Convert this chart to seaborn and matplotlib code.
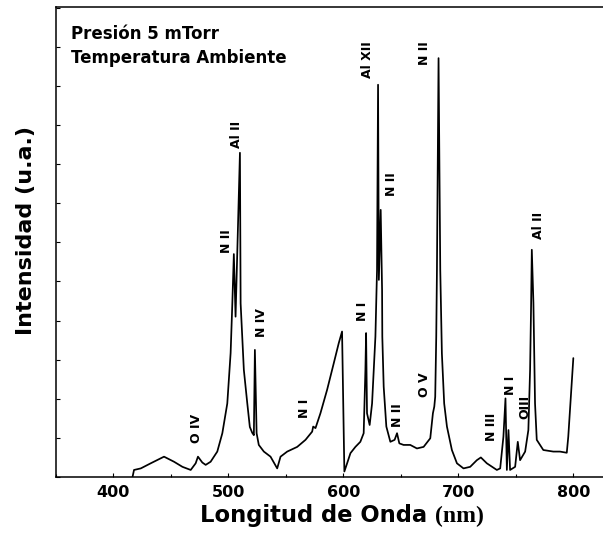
import numpy as np
import pandas as pd
import matplotlib
matplotlib.use("Agg")
import matplotlib.pyplot as plt
import seaborn as sns

# ---- data ----
wavelength = [416.8, 418.1, 424.0, 432.6, 444.2, 452.9, 460.2, 467.4, 471.7, 473.7,
              477.5, 480.4, 484.7, 490.5, 494.9, 499.2, 502.1, 503.6, 504.9, 506.4,
              510.2, 510.8, 513.6, 516.6, 518.8, 520.9, 522.3, 523.2, 524.7, 526.6,
              531.0, 536.8, 542.6, 545.5, 551.3, 560.0, 567.2, 573.0, 573.9, 575.9,
              580.2, 586.0, 591.8, 596.1, 599.0, 601.0, 603.4, 606.3, 610.6, 614.9,
              617.8, 619.3, 619.9, 620.7, 623.0, 625.1, 628.0, 629.4, 630.3, 631.0,
              632.6, 633.8, 634.0, 635.2, 637.5, 641.0, 644.7, 646.8, 648.8, 652.5,
              658.3, 664.1, 669.9, 675.7, 678.0, 679.2, 680.0, 680.9, 681.5, 682.9,
              684.4, 685.8, 687.8, 690.2, 694.5, 698.9, 704.6, 710.4, 716.2, 719.7,
              724.9, 733.6, 736.5, 739.3, 741.1, 742.3, 743.7, 745.1, 749.5, 751.8,
              753.8, 758.2, 761.0, 762.5, 763.4, 764.0, 765.4, 766.8, 768.3, 774.0,
              782.7, 788.5, 794.4, 795.7, 800.1]
intensity = [0.00, 0.18, 0.22, 0.35, 0.52, 0.39, 0.26, 0.18, 0.35, 0.52,
             0.37, 0.31, 0.39, 0.65, 1.12, 1.88, 3.17, 4.45, 5.70, 4.10,
             8.29, 4.44, 2.74, 1.88, 1.28, 1.13, 1.07, 3.25, 1.12, 0.82,
             0.65, 0.52, 0.22, 0.52, 0.65, 0.77, 0.95, 1.16, 1.29, 1.25,
             1.63, 2.23, 2.91, 3.42, 3.72, 0.14, 0.35, 0.61, 0.77, 0.90,
             1.12, 2.74, 3.68, 1.63, 1.33, 1.88, 3.59, 5.29, 10.03, 5.04,
             6.83, 4.78, 3.59, 2.31, 1.29, 0.90, 0.95, 1.12, 0.86, 0.82,
             0.82, 0.73, 0.77, 0.99, 1.63, 1.80, 2.05, 3.59, 5.29, 10.71,
             5.29, 3.16, 1.88, 1.29, 0.69, 0.35, 0.22, 0.26, 0.43, 0.50,
             0.35, 0.18, 0.22, 1.03, 2.01, 0.18, 1.20, 0.18, 0.26, 0.90,
             0.43, 0.65, 1.20, 2.74, 4.44, 5.81, 4.45, 1.88, 0.95, 0.69,
             0.65, 0.65, 0.62, 1.03, 3.04]

peak_labels = ["O IV", "N II", "Al II", "N IV", "N I", "N I", "Al XII", "N II",
               "N II", "O V", "N II", "N III", "N I", "OIII", "Al II"]
peak_label_x = [472.7, 498.4, 507.0, 528.7, 566.3, 616.9, 621.3, 642.4,
                647.0, 670.5, 670.5, 728.6, 745.1, 758.2, 769.4]
peak_label_y = [1.23, 6.02, 8.75, 3.95, 1.76, 4.23, 10.66, 7.49,
                1.59, 2.35, 10.84, 1.29, 2.35, 1.80, 6.44]

x_ticks = [400, 500, 600, 700, 800]
x_minor_ticks = [350, 450, 550, 650, 750]

df = pd.DataFrame({"wl": wavelength, "I": intensity})

sns.set_style("ticks")
plt.rcParams["font.family"] = ["DejaVu Sans"]
plt.rcParams["text.color"] = "black"
plt.rcParams["axes.labelcolor"] = "black"
plt.rcParams["xtick.color"] = "black"
plt.rcParams["ytick.color"] = "black"
plt.rcParams["axes.edgecolor"] = "black"

fig = plt.figure(figsize=(6.03, 5.37), dpi=100)
ax = fig.add_axes([55.7 / 603, 1 - 477 / 537, 1 - 55.7 / 603, (477 - 7.3) / 537])

sns.lineplot(data=df, x="wl", y="I", ax=ax, color="black", linewidth=1.25,
             sort=False, estimator=None)

ax.set_xlim(350.8, 825.9)
ax.set_ylim(0, 12.01)

ax.set_xticks(x_ticks)
ax.set_xticks(x_minor_ticks, minor=True)
ax.set_xticklabels([str(t) for t in x_ticks], fontsize=11.5, fontweight="bold",
                   color="black")
ax.set_yticks(np.arange(0, 13, 1))
ax.set_yticklabels([])
ax.tick_params(axis="both", which="major", direction="in", length=3, width=0.8,
               pad=6, right=False, top=False, colors="black")
ax.tick_params(axis="x", which="minor", direction="in", length=2, width=0.8,
               colors="black")

for side in ["left", "bottom", "top"]:
    ax.spines[side].set_linewidth(1.1)
    ax.spines[side].set_color("black")
ax.spines["right"].set_visible(False)

for t, xv, yv in zip(peak_labels, peak_label_x, peak_label_y):
    ax.text(xv, yv, t, rotation=90, ha="center", va="center",
            fontsize=9, fontweight="bold", color="black")

ax.text(0.0274, 0.932, "Presión 5 mTorr", transform=ax.transAxes,
        fontsize=12, fontweight="bold", ha="left", va="baseline", color="black")
ax.text(0.0274, 0.881, "Temperatura Ambiente", transform=ax.transAxes,
        fontsize=12, fontweight="bold", ha="left", va="baseline", color="black")

ax.set_ylabel("Intensidad (u.a.)", fontsize=16, fontweight="bold", color="black")
ax.yaxis.set_label_coords((26 - 55.7) / 547.3, (477 - 230) / 470)
ax.yaxis.label.set_va("center")

ax.set_xlabel("Longitud de Onda", fontsize=16.3, fontweight="bold", ha="left",
              va="baseline", color="black")
ax.xaxis.set_label_coords((200 - 55.7) / 547.3, (477 - 522) / 470)

fig.text(435 / 603, 1 - 522 / 537, "(nm)", fontsize=17, fontweight="bold",
         family=["Liberation Serif"], ha="left", va="baseline", color="black")

fig.savefig("out.png", dpi=100, facecolor="white")
